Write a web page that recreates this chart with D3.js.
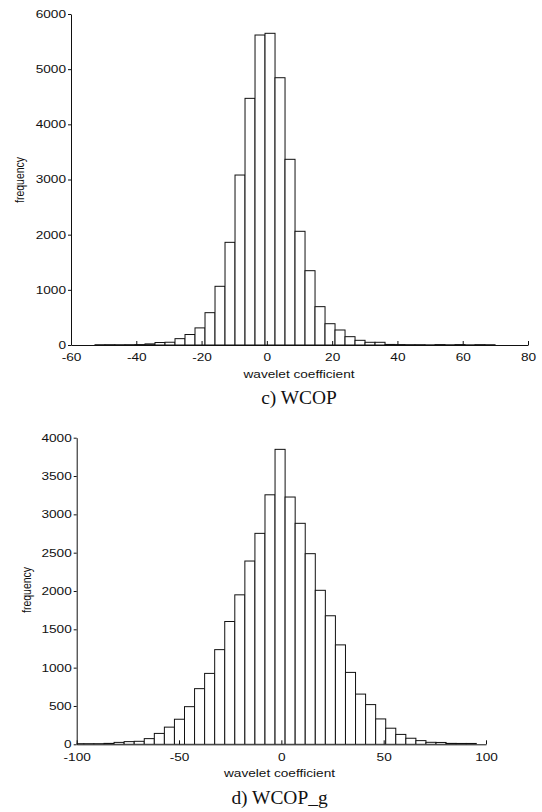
<!DOCTYPE html>
<html>
<head>
<meta charset="utf-8">
<script src="https://cdn.jsdelivr.net/npm/d3@7"></script>
<style>
  body { margin: 0; background: #fff; }
  .tick text, .axlabel { font-family: "Liberation Sans", Arial, sans-serif; fill: #111; }
  .caption { font-family: "Liberation Serif", "Times New Roman", serif; fill: #111; }
</style>
</head>
<body>
<div id="chart"></div>
<script>
// histogram counts, 40 bins each

// c) WCOP
const wcopBinStart = -52.65;
const wcopBinWidth = 3.064;
const wcopCounts = [5, 6, 5, 6, 8, 20, 45, 50, 115, 190,
                    310, 586, 1064, 1861, 3081, 4471, 5619, 5650, 4845, 3366,
                    2061, 1347, 695, 386, 272, 151, 85, 49, 49, 10,
                    8, 6, 6, 3, 8, 4, 8, 3, 7, 5];
const wcopXTicks = [-60, -40, -20, 0, 20, 40, 60, 80];
const wcopYTicks = [0, 1000, 2000, 3000, 4000, 5000, 6000];

// d) WCOP_g
const wcopgBinStart = -101.4;
const wcopgBinWidth = 4.916;
const wcopgCounts = [8, 8, 8, 12, 25, 35, 39, 74, 142, 224,
                     327, 491, 726, 925, 1235, 1602, 1950, 2391, 2752, 3255,
                     3848, 3226, 2883, 2487, 2009, 1677, 1297, 938, 655, 518,
                     331, 210, 129, 79, 48, 26, 24, 12, 11, 11];
const wcopgXTicks = [-100, -50, 0, 50, 100];
const wcopgYTicks = [0, 500, 1000, 1500, 2000, 2500, 3000, 3500, 4000];

const W = 542, H = 812;
const stretch = 1.3;   // the tick text in the figure is widened
const plain = d => String(d);   // no thousands comma, ascii minus

const svg = d3.select('#chart')
    .append("svg")
    .attr("width", W)
    .attr("height", H);

function drawHist(o) {
    const x = d3.scaleLinear().domain(o.xDomain).range([o.left, o.right]);
    const y = d3.scaleLinear().domain(o.yDomain).range([o.bottom, o.top]);

    const g = svg.append("g");

    g.append("clipPath")
        .attr("id", o.id + "-clip")
        .append("rect")
        .attr("x", o.left).attr("y", o.top - 5)
        .attr("width", o.right - o.left).attr("height", o.bottom - o.top + 5);

    // bars
    g.append("g")
        .attr("clip-path", `url(#${o.id}-clip)`)
        .selectAll("rect")
        .data(o.counts)
        .join("rect")
        .attr("x", (d, i) => x(o.binStart + i * o.binWidth))
        .attr("width", x(o.binWidth) - x(0))
        .attr("y", d => y(d))
        .attr("height", d => y(0) - y(d))
        .style("fill", "white")
        .style("stroke", "#111")
        .style("stroke-width", 1);

    // x axis, ticks pointing up into the plot
    const xa = g.append("g")
        .attr("transform", `translate(0, ${o.bottom})`)
        .call(d3.axisBottom(x).tickValues(o.xTicks).tickFormat(plain)
            .tickSizeInner(-4).tickSizeOuter(0));
    xa.selectAll(".tick text")
        .attr("y", 9)
        .attr("dy", "0.71em")
        .style("font-size", "10.5px")
        .attr("transform", `scale(${stretch},1)`);

    // y axis
    const ya = g.append("g")
        .attr("transform", `translate(${o.left}, 0)`)
        .call(d3.axisLeft(y).tickValues(o.yTicks).tickFormat(plain)
            .tickSizeInner(3).tickSizeOuter(0));
    ya.selectAll(".tick text")
        .attr("x", -5 / stretch)
        .style("font-size", "10.5px")
        .attr("transform", `scale(${stretch},1)`);

    g.selectAll(".domain, .tick line").attr("stroke", "#111");

    g.append("text")
        .attr("class", "axlabel")
        .attr("text-anchor", "middle")
        .attr("transform", `translate(${o.xLabelX}, ${o.xLabelY}) scale(${stretch},1)`)
        .style("font-size", "10.5px")
        .text("wavelet coefficient");

    g.append("text")
        .attr("class", "axlabel")
        .attr("text-anchor", "middle")
        .attr("transform", `translate(${o.yLabelX}, ${o.yLabelY}) scale(${stretch},1) rotate(-90)`)
        .style("font-size", "10.5px")
        .text("frequency");

    g.append("text")
        .attr("class", "caption")
        .attr("text-anchor", "middle")
        .attr("transform", `translate(${o.capX}, ${o.capY}) scale(1.08,1)`)
        .style("font-size", "18px")
        .text(o.caption);
}

drawHist({
    id: "c", counts: wcopCounts, binStart: wcopBinStart, binWidth: wcopBinWidth,
    xDomain: [-60, 80], yDomain: [0, 6000], xTicks: wcopXTicks, yTicks: wcopYTicks,
    left: 71, right: 528, top: 14, bottom: 345,
    xLabelX: 299, xLabelY: 378, yLabelX: 24, yLabelY: 180,
    caption: "c) WCOP", capX: 299, capY: 404
});

drawHist({
    id: "d", counts: wcopgCounts, binStart: wcopgBinStart, binWidth: wcopgBinWidth,
    xDomain: [-100, 100], yDomain: [0, 4000], xTicks: wcopgXTicks, yTicks: wcopgYTicks,
    left: 76.7, right: 486, top: 437.7, bottom: 744.3,
    xLabelX: 279.5, xLabelY: 777, yLabelX: 31, yLabelY: 590,
    caption: "d) WCOP_g", capX: 279.5, capY: 804
});
</script>
</body>
</html>
